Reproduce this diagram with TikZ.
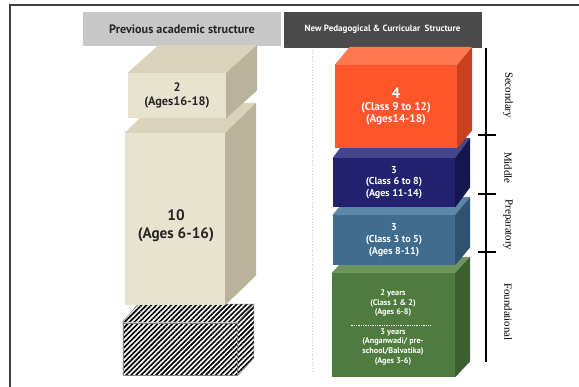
\documentclass[tikz,border=0pt]{standalone}
\usepackage{fontspec}
\setmainfont{PT Sans}
\newfontfamily\stagefont{Liberation Serif}
\usepackage{tikz}
\usetikzlibrary{patterns.meta}
\definecolor{headgrey}{HTML}{C8C8C8}
\definecolor{headdark}{HTML}{4A4A4A}
\definecolor{cream}{HTML}{E8E3CF}
\definecolor{creamtop}{HTML}{D9D3BC}
\definecolor{creamside}{HTML}{B9B39C}
\definecolor{secfront}{HTML}{FF552A}
\definecolor{sectop}{HTML}{FF7850}
\definecolor{secside}{HTML}{C8401E}
\definecolor{midfront}{HTML}{222270}
\definecolor{midtop}{HTML}{45458C}
\definecolor{midside}{HTML}{171750}
\definecolor{prepfront}{HTML}{3F6C8F}
\definecolor{preptop}{HTML}{5C87A8}
\definecolor{prepside}{HTML}{2E5371}
\definecolor{fndfront}{HTML}{4F7B3F}
\definecolor{fndtop}{HTML}{6E9560}
\definecolor{fndside}{HTML}{3B5F2F}

\begin{document}
\begin{tikzpicture}[x=0.03cm,y=-0.03cm]
\tikzset{face/.style = {inner sep=0pt,align=center,font=\bfseries}}
\tikzset{hatch/.style = {pattern={Lines[angle=45,distance=3pt,line width=1.4pt]},pattern color=black,draw=gray}}
\tikzset{stage/.style = {rotate=-90,font=\stagefont\fontsize{9.3}{11}\selectfont}}
\tikzset{tline/.style = {line width=1.7pt}}
\useasboundingbox (0,0) rectangle (579,387);
% frame
\draw[line width=1.3pt,black!75] (10,387) -- (10,5) -- (579,5);
\draw[dotted,black!20] (312,50) -- (312,372);
% headers
\node[face,fill=headgrey,minimum width=5.94cm,minimum height=1.02cm,
  font=\bfseries\fontsize{10.4}{12}\selectfont,text=black!85] (oldhead) at (182,29) {Previous academic structure};
\node[face,fill=headdark,draw=black!70,minimum width=5.91cm,minimum height=1.05cm,
  font=\bfseries\fontsize{7.7}{9}\selectfont,text=white] (newhead) at (382.5,29.5) {New Pedagogical \& Curricular\ \ Structure};
% previous structure
\node[face,hatch,preaction={fill=white},minimum width=3.42cm,minimum height=1.56cm] (pre) at (180,349) {};
\fill[white] (pre.north west) -- ++(16,-18) -- ([shift={(16,-18)}]pre.north east) -- (pre.north east) -- cycle;
\draw[hatch] (pre.north west) -- ++(16,-18) -- ([shift={(16,-18)}]pre.north east) -- (pre.north east) -- cycle;
\fill[white] (pre.north east) -- ++(16,-18) -- ([shift={(16,-18)}]pre.south east) -- (pre.south east) -- cycle;
\draw[hatch] (pre.north east) -- ++(16,-18) -- ([shift={(16,-18)}]pre.south east) -- (pre.south east) -- cycle;
\node[face,fill=cream,minimum width=3cm,minimum height=5.16cm] (ten) at (175,219) {};
\fill[creamtop] (ten.north west) -- ++(31,-30) -- ([shift={(31,-30)}]ten.north east) -- (ten.north east) -- cycle;
\fill[creamside] (ten.north east) -- ++(31,-30) -- ([shift={(31,-30)}]ten.south east) -- (ten.south east) -- cycle;
\node[face,font=\bfseries\fontsize{13}{15.5}\selectfont,text=black!85] (tenlbl) at (176,226) {10\\(Ages 6-16)};
\node[face,fill=cream,minimum width=2.94cm,minimum height=1.35cm,
  font=\bfseries\fontsize{10.5}{11.5}\selectfont,text=black!85] (two) at (177,95.5) {2\\(Ages16-18)};
\fill[creamtop] (two.north west) -- ++(31,-28) -- ([shift={(31,-28)}]two.north east) -- (two.north east) -- cycle;
\fill[creamside] (two.north east) -- ++(31,-28) -- ([shift={(31,-28)}]two.south east) -- (two.south east) -- cycle;
% new structure
\node[face,fill=fndfront,minimum width=3.69cm,minimum height=3.12cm] (fnd) at (393.5,325) {};
\fill[fndtop] (fnd.north west) -- ++(15,-16) -- ([shift={(15,-16)}]fnd.north east) -- (fnd.north east) -- cycle;
\fill[fndside] (fnd.north east) -- ++(15,-16) -- ([shift={(15,-16)}]fnd.south east) -- (fnd.south east) -- cycle;
\node[face,text=white,font=\bfseries\fontsize{7}{8.5}\selectfont] (fndup) at (393,303) {2 years\\(Class 1 \& 2)\\(Ages 6-8)};
\node[face,text=white,font=\bfseries\fontsize{7}{8.5}\selectfont] (fndlow) at (393,347) {3 years\\(Anganwadi/ pre-\\school/Balvatika)\\(Ages 3-6)};
\draw[white,densely dotted,line width=0.5pt] ([shift={(-43,0)}]fnd.center) -- ([shift={(37,0)}]fnd.center);
\node[face,fill=prepfront,minimum width=3.66cm,minimum height=1.5cm,
  font=\bfseries\fontsize{8.6}{10}\selectfont,text=white] (prep) at (394,240) {3\\(Class 3 to 5)\\(Ages 8-11)};
\fill[preptop] (prep.north west) -- ++(15,-18) -- ([shift={(15,-18)}]prep.north east) -- (prep.north east) -- cycle;
\fill[prepside] (prep.north east) -- ++(15,-18) -- ([shift={(15,-18)}]prep.south east) -- (prep.south east) -- cycle;
\node[face,fill=midfront,minimum width=3.66cm,minimum height=1.47cm,
  font=\bfseries\fontsize{8.6}{10}\selectfont,text=white] (mid) at (394,182.5) {3\\(Class 6 to 8)\\(Ages 11-14)};
\fill[midtop] (mid.north west) -- ++(15,-20) -- ([shift={(15,-20)}]mid.north east) -- (mid.north east) -- cycle;
\fill[midside] (mid.north east) -- ++(15,-20) -- ([shift={(15,-20)}]mid.south east) -- (mid.south east) -- cycle;
\node[face,fill=secfront,minimum width=3.66cm,minimum height=2.49cm,
  font=\bfseries\fontsize{9.6}{10.5}\selectfont,text=white] (sec) at (396,106.5) {{\fontsize{13}{16}\selectfont 4}\\(Class 9 to 12)\\(Ages14-18)};
\fill[sectop] (sec.north west) -- ++(15,-18) -- ([shift={(15,-18)}]sec.north east) -- (sec.north east) -- cycle;
\fill[secside] (sec.north east) -- ++(15,-18) -- ([shift={(15,-18)}]sec.south east) -- (sec.south east) -- cycle;
% stages
\coordinate (t0) at (486,48);
\coordinate (t1) at (486,135);
\coordinate (t2) at (486,194);
\coordinate (t3) at (486,252);
\coordinate (t4) at (486,362);
\draw[tline] (t0) -- (t4);
\draw[tline] ([shift={(-8,0)}]t1) -- ([shift={(10,0)}]t1);
\draw[tline] ([shift={(-8,0)}]t2) -- ([shift={(10,0)}]t2);
\draw[tline] ([shift={(-8,0)}]t3) -- ([shift={(10,0)}]t3);
\node[stage] (secname) at (508,95) {Secondary};
\node[stage] (midname) at (508,168) {Middle};
\node[stage] (prepname) at (508,225) {Preparatory};
\node[stage] (fndname) at (508,312) {Foundational};
\end{tikzpicture}
\end{document}
